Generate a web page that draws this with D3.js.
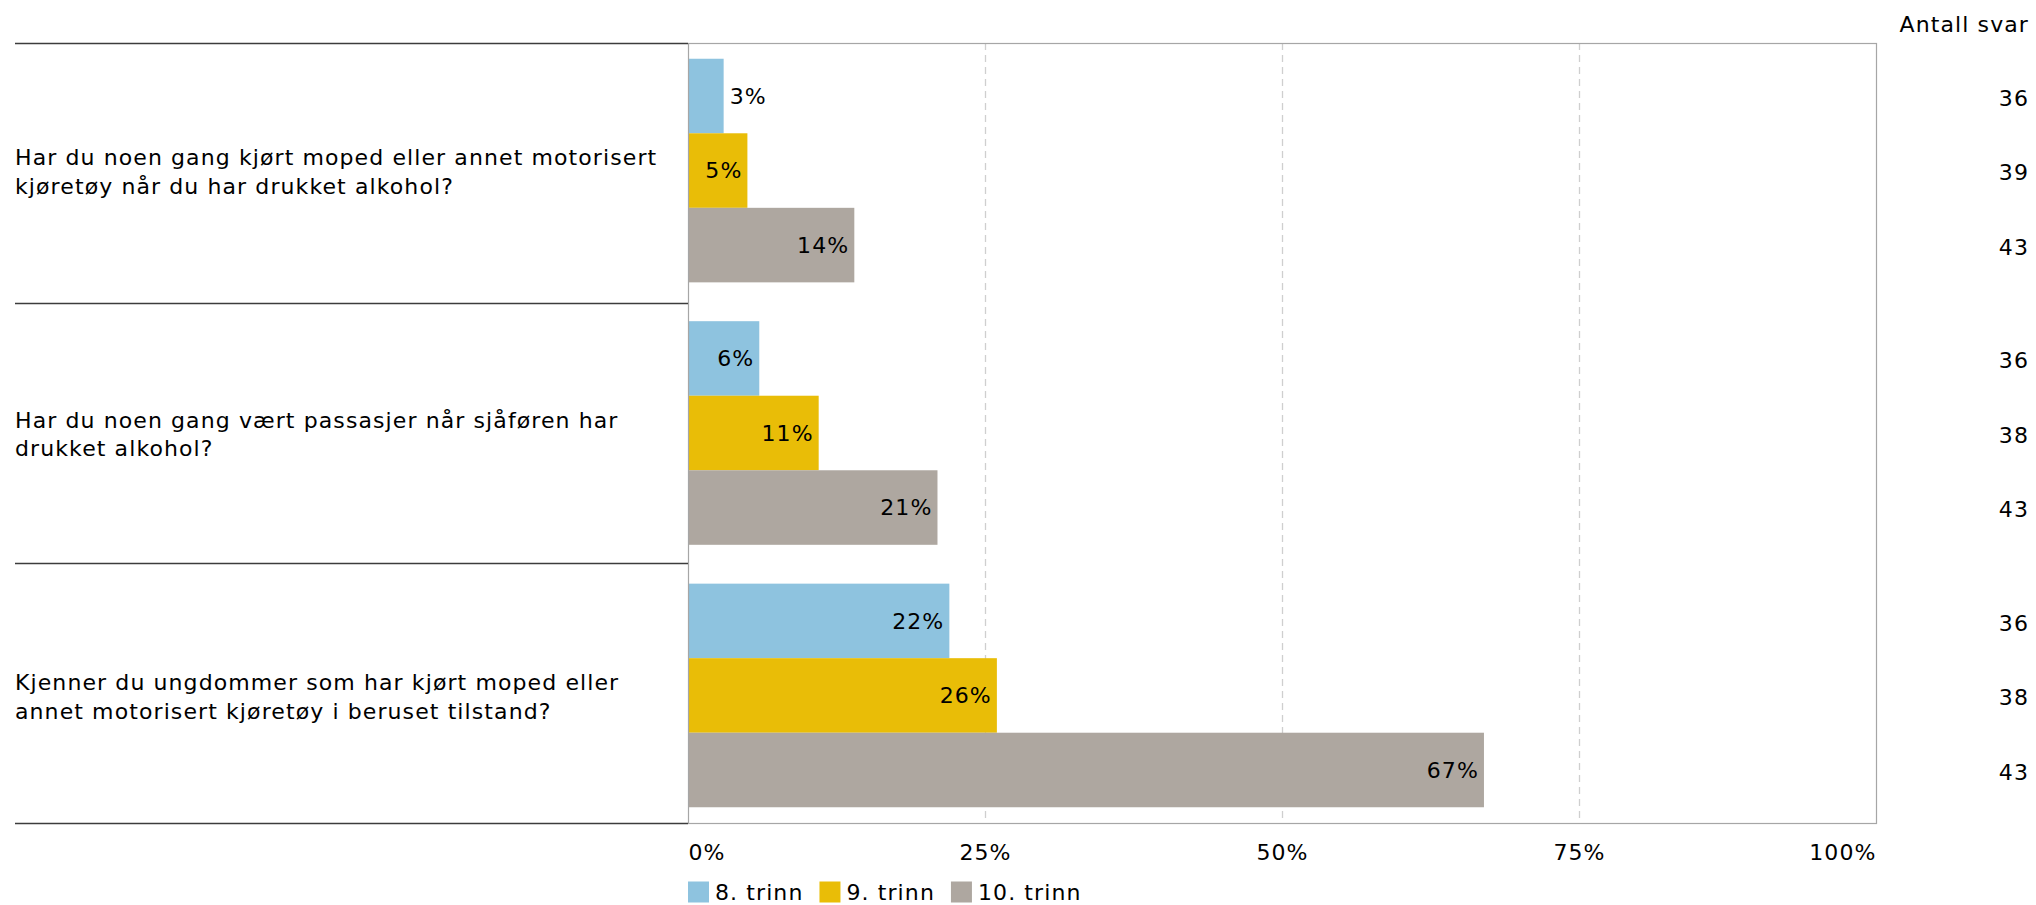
<!DOCTYPE html>
<html>
<head>
<meta charset="utf-8">
<script src="https://cdn.jsdelivr.net/npm/d3@7"></script>
<style>
  html, body { margin: 0; padding: 0; background: #fff; }
  svg { display: block; }
  text { font-family: 'DejaVu Sans', Verdana, sans-serif; fill: #000; letter-spacing: 1.1px; }
</style>
</head>
<body>
<svg id="chart" width="2036" height="905"></svg>
<script>
// ---- data ----
const categories = [
  "Har du noen gang kjørt moped eller annet motorisert\nkjøretøy når du har drukket alkohol?",
  "Har du noen gang vært passasjer når sjåføren har\ndrukket alkohol?",
  "Kjenner du ungdommer som har kjørt moped eller\nannet motorisert kjøretøy i beruset tilstand?"
];
const seriesNames = ["8. trinn", "9. trinn", "10. trinn"];
const values8 = [3, 6, 22];
const values9 = [5, 11, 26];
const values10 = [14, 21, 67];
const count8 = [36, 36, 36];
const count9 = [39, 38, 38];
const count10 = [43, 43, 43];
const xTicks = [0, 25, 50, 75, 100];
const countTitle = "Antall svar";
const colors = ["#8ec3df", "#e9bd07", "#aea7a0"];

// ---- build table ----
const allValues = [values8, values9, values10];
const allCounts = [count8, count9, count10];
const rows = [];
categories.forEach((c, ci) => {
  seriesNames.forEach((s, si) => {
    rows.push({ cat: c, series: s, si, value: allValues[si][ci], count: allCounts[si][ci] });
  });
});

// ---- layout ----
const FS = 22;
const plotL = 688, plotR = 1876, plotT = 43, plotB = 823;
const svg = d3.select("#chart");

const x = d3.scaleLinear().domain([0, 100]).range([plotL, plotR]);
const rowBand = d3.scaleBand().domain(categories).range([plotT, plotB]);
const y0 = d3.scaleBand().domain(categories).range([plotT, plotB]).paddingInner(0.148).paddingOuter(0.06);
const y1 = d3.scaleBand().domain(seriesNames).range([0, y0.bandwidth()]);
const color = d3.scaleOrdinal().domain(seriesNames).range(colors);

// gridlines
svg.append("g").selectAll("line").data(xTicks.filter(d => d > 0 && d < 100)).join("line")
  .attr("x1", d => Math.round(x(d)) + 0.5).attr("x2", d => Math.round(x(d)) + 0.5)
  .attr("y1", plotT).attr("y2", plotB)
  .attr("stroke", "#cfcfcf").attr("stroke-width", 1.3).attr("stroke-dasharray", "7,5");

// bars
svg.append("g").selectAll("rect").data(rows).join("rect")
  .attr("x", x(0))
  .attr("y", d => y0(d.cat) + y1(d.series))
  .attr("width", d => x(d.value) - x(0))
  .attr("height", y1.bandwidth())
  .attr("fill", d => color(d.series));

// plot border
svg.append("rect")
  .attr("x", plotL + 0.5).attr("y", plotT + 0.5)
  .attr("width", plotR - plotL).attr("height", plotB - plotT)
  .attr("fill", "none").attr("stroke", "#a6a6a6").attr("stroke-width", 1.2);

// category separators (left table)
const sepYs = categories.map(c => rowBand(c)).concat([plotB]);
svg.append("g").selectAll("line").data(sepYs).join("line")
  .attr("x1", 15).attr("x2", plotL)
  .attr("y1", d => d + 0.5).attr("y2", d => d + 0.5)
  .attr("stroke", "#3c3c3c").attr("stroke-width", 1.4);

// category labels
const catG = svg.append("g").selectAll("text").data(categories).join("text")
  .attr("x", 15)
  .attr("font-size", FS);
catG.each(function(c) {
  const lines = c.split("\n");
  const cy = y0(c) + y0.bandwidth() / 2;
  d3.select(this).selectAll("tspan").data(lines).join("tspan")
    .attr("x", 15)
    .attr("y", (l, i) => cy - 5.2 + i * 28.5)
    .text(l => l);
});

// value labels
const fmt = d => d3.format(".0f")(d) + "%";
svg.append("g").selectAll("text").data(rows).join("text")
  .attr("font-size", FS)
  .text(d => fmt(d.value))
  .each(function(d) {
    const w = this.getComputedTextLength();
    const bw = x(d.value) - x(0);
    const inside = bw > w + 12;
    d3.select(this)
      .attr("x", inside ? x(d.value) - 5 : x(d.value) + 6)
      .attr("text-anchor", inside ? "end" : "start");
  })
  .attr("y", d => y0(d.cat) + y1(d.series) + y1.bandwidth() / 2)
  .attr("dy", "0.36em");

// counts
svg.append("text")
  .attr("x", 2029).attr("y", 32)
  .attr("text-anchor", "end").attr("font-size", FS)
  .text(countTitle);
svg.append("g").selectAll("text").data(rows).join("text")
  .attr("x", 2029)
  .attr("y", d => y0(d.cat) + y1(d.series) + y1.bandwidth() / 2 + 2)
  .attr("dy", "0.36em")
  .attr("text-anchor", "end").attr("font-size", FS)
  .text(d => d.count);

// x axis
const axis = svg.append("g")
  .attr("transform", `translate(0,${plotB})`)
  .call(d3.axisBottom(x).tickValues(xTicks).tickFormat(d => d + "%").tickSize(0).tickPadding(21));
axis.select(".domain").remove();
axis.selectAll("text")
  .attr("font-size", FS)
  .attr("font-family", "'DejaVu Sans', Verdana, sans-serif")
  .attr("fill", "#000")
  .attr("text-anchor", (d, i) => i === 0 ? "start" : (i === xTicks.length - 1 ? "end" : "middle"));

// legend
const leg = svg.append("g");
let lx = plotL;
seriesNames.forEach((s, i) => {
  leg.append("rect").attr("x", lx).attr("y", 881.5).attr("width", 21).attr("height", 21)
    .attr("fill", color(s));
  const t = leg.append("text").attr("x", lx + 27).attr("y", 900).attr("font-size", FS).text(s);
  lx = lx + 27 + t.node().getComputedTextLength() + 16;
});
</script>
</body>
</html>
